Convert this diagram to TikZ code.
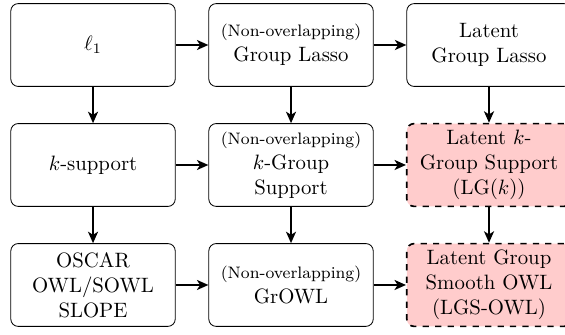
\documentclass[tikz,border=0pt]{standalone}
\usepackage{amsmath}
\usetikzlibrary{arrows.meta}

\tikzset{
	box/.style={draw, rounded corners=3.5pt, align=center, minimum width=2.78cm, minimum height=1.40cm, inner sep=2pt},
	newbox/.style={box, thick, dashed, fill=red!20},
	link/.style={line width=1.3pt, -{Stealth[length=5.5pt, width=4.8pt, inset=1.5pt]}}
}

\begin{document}
\begin{tikzpicture}
	\useasboundingbox (-1.573,0.761) rectangle (7.981,-4.887);
	\node[box] (lone) at (0,0) {$\ell_1$};
	\node[box] (glasso) at (3.348,0) {{\footnotesize (Non-overlapping)}\\Group Lasso};
	\node[box] (lglasso) at (6.696,0) {Latent\\Group Lasso};
	\node[box] (ksup) at (0,-2.029) {$k$-support};
	\node[box] (kgsup) at (3.348,-2.029) {{\footnotesize (Non-overlapping)}\\$k$-Group\\Support};
	\node[newbox] (lgk) at (6.696,-2.029) {Latent $k$-\\Group Support\\(LG($k$))};
	\node[box] (owl) at (0,-4.058) {OSCAR\\OWL/SOWL\\SLOPE};
	\node[box] (growl) at (3.348,-4.058) {{\footnotesize (Non-overlapping)}\\GrOWL};
	\node[newbox] (lgsowl) at (6.696,-4.058) {Latent Group\\Smooth OWL\\(LGS-OWL)};
	% across
	\draw[link] (lone) -- (glasso);
	\draw[link] (glasso) -- (lglasso);
	\draw[link] (ksup) -- (kgsup);
	\draw[link] (kgsup) -- (lgk);
	\draw[link] (owl) -- (growl);
	\draw[link] (growl) -- (lgsowl);
	% down
	\draw[link] (lone) -- (ksup);
	\draw[link] (ksup) -- (owl);
	\draw[link] (glasso) -- (kgsup);
	\draw[link] (kgsup) -- (growl);
	\draw[link] (lglasso) -- (lgk);
	\draw[link] (lgk) -- (lgsowl);
\end{tikzpicture}
\end{document}
